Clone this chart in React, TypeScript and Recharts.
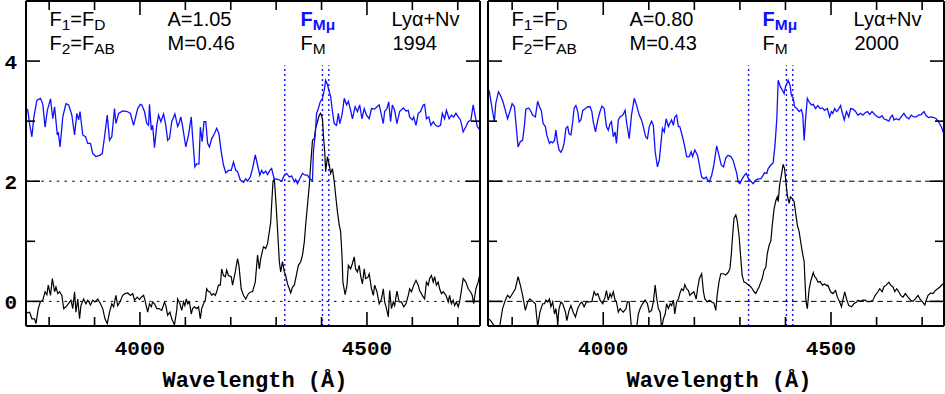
import { LineChart, Line, XAxis, YAxis, ReferenceLine } from "recharts";

// wavelength (Å) / flux pairs
const blue1994: [number, number][] = [
  [3749, 3.22], [3753, 3.18], [3757, 2.95], [3762, 2.74], [3766, 3.05], [3773, 3.35], [3781, 3.38], [3786, 3.28], [3791, 2.9], [3796, 3.18],
  [3803, 3.37], [3808, 3.04], [3812, 3.24], [3818, 2.77], [3820, 2.82], [3824, 2.57], [3830, 3.07], [3837, 3.29], [3843, 3.27], [3850, 3.1],
  [3856, 2.77], [3861, 3.13], [3865, 3.02], [3868, 3.16], [3874, 2.77], [3880, 2.74], [3885, 2.63], [3891, 2.63], [3896, 2.46], [3903, 2.41],
  [3911, 2.43], [3917, 2.46], [3922, 2.74], [3928, 3.1], [3933, 2.68], [3938, 2.74], [3944, 3.21], [3947, 2.96], [3953, 3.13], [3962, 3.17],
  [3972, 3.16], [3979, 3.13], [3986, 2.93], [3995, 3.21], [4001, 3.28], [4004, 3.27], [4010, 3.16], [4015, 2.96], [4019, 2.93], [4021, 3.28],
  [4025, 2.85], [4028, 2.93], [4032, 2.56], [4037, 2.93], [4041, 3.1], [4046, 2.99], [4052, 3.12], [4057, 2.93], [4061, 2.68], [4065, 2.71],
  [4070, 2.99], [4077, 3.12], [4083, 2.91], [4086, 2.96], [4090, 3.07], [4094, 2.91], [4101, 2.57], [4107, 2.77], [4113, 3.07], [4116, 2.74],
  [4121, 2.24], [4125, 2.29], [4130, 2.29], [4133, 2.9], [4137, 2.66], [4141, 2.99], [4145, 2.99], [4149, 2.63], [4153, 2.57], [4158, 2.71],
  [4164, 2.79], [4169, 2.88], [4174, 2.79], [4179, 2.49], [4184, 2.27], [4189, 2.14], [4195, 2.18], [4201, 2.18], [4206, 2.32], [4211, 2.18],
  [4215, 2.16], [4221, 2.02], [4228, 1.98], [4233, 2.04], [4237, 2.0], [4243, 2.07], [4248, 2.21], [4254, 2.44], [4259, 2.27], [4264, 2.1],
  [4268, 2.18], [4272, 2.13], [4277, 2.17], [4281, 2.11], [4286, 2.18], [4290, 2.21], [4296, 2.03], [4301, 2.04], [4307, 2.02], [4312, 2.0],
  [4318, 2.1], [4323, 2.13], [4329, 2.07], [4334, 2.09], [4340, 1.99], [4343, 2.03], [4347, 1.96], [4352, 2.04], [4358, 2.13], [4364, 2.1],
  [4369, 2.1], [4374, 2.04], [4380, 2.01], [4382, 2.49], [4386, 2.77], [4389, 3.13], [4393, 3.21], [4397, 3.32], [4402, 3.38], [4406, 3.52],
  [4409, 3.68], [4413, 3.61], [4417, 3.49], [4420, 3.41], [4424, 3.16], [4428, 2.96], [4433, 2.93], [4437, 3.13], [4440, 2.96], [4445, 3.1],
  [4450, 3.38], [4455, 3.27], [4459, 3.33], [4464, 3.18], [4468, 3.04], [4474, 3.24], [4479, 3.16], [4484, 3.27], [4489, 3.04], [4494, 3.21],
  [4499, 3.1], [4505, 3.04], [4510, 3.21], [4517, 3.2], [4522, 3.24], [4527, 3.27], [4532, 3.1], [4536, 2.96], [4539, 3.16], [4544, 3.21],
  [4548, 3.32], [4552, 2.99], [4556, 3.27], [4561, 3.18], [4566, 2.96], [4572, 3.16], [4580, 3.22], [4586, 3.17], [4591, 3.18], [4594, 3.07],
  [4600, 3.02], [4603, 3.07], [4608, 2.93], [4613, 3.13], [4618, 3.16], [4624, 3.27], [4627, 3.28], [4631, 3.04], [4636, 3.07], [4641, 2.93],
  [4646, 2.99], [4651, 2.93], [4657, 2.91], [4662, 2.93], [4666, 3.13], [4671, 3.04], [4675, 3.18], [4681, 3.04], [4686, 3.1], [4691, 3.07],
  [4696, 3.13], [4701, 3.07], [4706, 3.02], [4712, 2.82], [4718, 2.91], [4723, 2.99], [4729, 3.02], [4734, 3.27], [4738, 3.1], [4743, 2.91],
  [4749, 2.85],
];

const black1994: [number, number][] = [
  [3749, -0.19], [3751, -0.19], [3757, -0.18], [3762, -0.29], [3768, -0.29], [3771, -0.37], [3776, -0.12], [3781, 0.0], [3786, 0.02], [3791, 0.16],
  [3795, 0.11], [3798, 0.27], [3803, 0.1], [3807, 0.38], [3812, 0.16], [3815, 0.24], [3819, 0.13], [3823, 0.16], [3828, 0.1], [3832, -0.12],
  [3837, -0.09], [3842, -0.04], [3848, 0.02], [3852, -0.12], [3856, 0.16], [3859, -0.18], [3863, 0.04], [3867, -0.29], [3870, -0.07], [3876, 0.04],
  [3881, -0.04], [3885, 0.02], [3891, -0.06], [3896, 0.02], [3901, -0.01], [3907, 0.04], [3913, -0.04], [3918, -0.12], [3923, -0.29], [3928, -0.37],
  [3933, -0.18], [3938, -0.04], [3942, -0.09], [3947, 0.1], [3951, -0.07], [3956, -0.01], [3962, 0.1], [3967, 0.13], [3973, 0.14], [3979, 0.1],
  [3984, 0.13], [3988, 0.02], [3994, 0.07], [3999, 0.03], [4003, 0.07], [4008, 0.1], [4011, 0.02], [4017, -0.18], [4021, -0.04], [4025, -0.09],
  [4028, -0.01], [4032, -0.04], [4037, -0.12], [4042, -0.12], [4048, -0.15], [4054, -0.01], [4057, -0.07], [4061, -0.23], [4066, -0.18], [4070, -0.29],
  [4076, -0.39], [4081, -0.15], [4083, 0.04], [4088, -0.04], [4092, -0.15], [4096, -0.01], [4099, -0.07], [4102, 0.04], [4105, -0.04], [4109, -0.01],
  [4113, -0.21], [4116, -0.12], [4120, -0.09], [4125, -0.12], [4129, -0.09], [4133, -0.29], [4136, -0.12], [4140, -0.04], [4144, 0.02], [4147, 0.21],
  [4151, 0.16], [4154, 0.16], [4158, 0.1], [4162, 0.13], [4166, 0.1], [4169, 0.16], [4173, 0.27], [4177, 0.27], [4180, 0.54], [4184, 0.43],
  [4188, 0.41], [4191, 0.52], [4195, 0.43], [4201, 0.41], [4204, 0.27], [4210, 0.49], [4215, 0.71], [4218, 0.6], [4223, 0.21], [4228, 0.1],
  [4233, 0.04], [4239, 0.13], [4245, 0.16], [4248, 0.16], [4254, 0.32], [4259, 0.77], [4263, 0.54], [4266, 0.71], [4272, 0.91], [4277, 0.88],
  [4281, 0.96], [4285, 1.16], [4288, 1.32], [4290, 1.6], [4293, 1.99], [4296, 2.04], [4299, 1.71], [4303, 1.21], [4307, 0.66], [4310, 0.49],
  [4314, 0.66], [4318, 0.49], [4321, 0.43], [4325, 0.29], [4329, 0.21], [4332, 0.14], [4336, 0.24], [4340, 0.27], [4343, 0.38], [4349, 0.6],
  [4354, 0.66], [4358, 0.77], [4362, 0.99], [4365, 1.27], [4369, 1.6], [4373, 1.93], [4376, 2.27], [4380, 2.68], [4384, 2.71], [4387, 2.88],
  [4391, 2.99], [4395, 3.1], [4398, 3.13], [4402, 3.04], [4404, 2.77], [4407, 2.49], [4409, 2.16], [4413, 2.41], [4417, 2.27], [4420, 2.13],
  [4424, 2.21], [4428, 1.99], [4431, 1.77], [4435, 1.49], [4439, 1.27], [4442, 1.16], [4445, 0.77], [4447, 0.32], [4452, 0.11], [4456, 0.27],
  [4459, 0.6], [4464, 0.54], [4468, 0.63], [4472, 0.74], [4475, 0.54], [4479, 0.49], [4483, 0.6], [4486, 0.43], [4490, 0.29], [4494, 0.54],
  [4497, 0.38], [4502, 0.4], [4505, 0.46], [4510, 0.21], [4514, 0.1], [4517, 0.27], [4522, 0.16], [4527, -0.04], [4532, 0.04], [4536, 0.21],
  [4539, -0.01], [4543, -0.12], [4547, -0.26], [4550, 0.18], [4554, -0.12], [4558, -0.01], [4561, -0.07], [4566, 0.17], [4571, -0.01], [4576, -0.01],
  [4581, -0.09], [4586, -0.04], [4591, 0.1], [4594, 0.21], [4598, 0.16], [4603, 0.27], [4608, 0.35], [4613, 0.27], [4616, 0.18], [4622, 0.1],
  [4627, 0.04], [4631, 0.32], [4635, 0.27], [4638, 0.38], [4642, 0.43], [4646, 0.32], [4649, 0.41], [4653, 0.27], [4657, 0.32], [4660, 0.21],
  [4664, 0.13], [4668, 0.16], [4674, 0.1], [4679, -0.01], [4682, 0.1], [4686, -0.04], [4690, 0.02], [4693, -0.07], [4697, -0.01], [4701, -0.09],
  [4704, -0.01], [4708, 0.18], [4712, 0.38], [4718, 0.32], [4723, 0.21], [4728, 0.16], [4732, 0.1], [4735, -0.04], [4740, 0.21], [4745, 0.32],
  [4749, 0.46],
];

const blue2000: [number, number][] = [
  [3747, 3.45], [3750, 3.49], [3756, 3.21], [3761, 2.99], [3764, 3.29], [3770, 3.49], [3775, 3.42], [3780, 3.32], [3785, 3.18], [3790, 3.04],
  [3795, 3.16], [3800, 3.29], [3805, 3.24], [3808, 2.99], [3813, 2.57], [3818, 2.66], [3823, 2.68], [3827, 2.93], [3830, 3.2], [3836, 3.22],
  [3840, 3.18], [3845, 3.1], [3851, 3.07], [3856, 3.33], [3860, 3.24], [3864, 3.18], [3868, 2.96], [3873, 2.91], [3876, 2.77], [3882, 2.63],
  [3885, 2.66], [3889, 2.64], [3893, 2.68], [3896, 2.85], [3900, 2.63], [3903, 2.52], [3907, 2.48], [3911, 2.54], [3914, 2.63], [3918, 2.88],
  [3922, 2.91], [3925, 2.79], [3929, 2.77], [3933, 2.99], [3936, 3.21], [3940, 3.26], [3944, 3.16], [3947, 2.99], [3951, 3.02], [3955, 3.18],
  [3961, 3.21], [3966, 3.24], [3971, 3.24], [3975, 3.16], [3978, 2.99], [3983, 2.82], [3988, 3.02], [3993, 3.16], [3997, 3.25], [4002, 3.21],
  [4007, 2.91], [4011, 2.85], [4015, 2.96], [4018, 2.99], [4022, 2.74], [4026, 2.82], [4029, 2.63], [4033, 3.02], [4037, 3.07], [4043, 3.1],
  [4048, 3.18], [4051, 2.99], [4057, 2.71], [4062, 3.1], [4068, 3.38], [4073, 3.27], [4079, 3.1], [4084, 3.02], [4088, 2.91], [4093, 2.74],
  [4097, 2.71], [4101, 2.91], [4106, 3.0], [4110, 2.93], [4114, 2.49], [4119, 2.24], [4123, 2.35], [4127, 2.66], [4130, 2.88], [4134, 2.82],
  [4138, 3.04], [4143, 2.91], [4146, 2.96], [4150, 3.02], [4154, 2.93], [4157, 3.07], [4161, 3.1], [4165, 2.91], [4168, 2.91], [4174, 2.74],
  [4179, 2.57], [4183, 2.41], [4189, 2.41], [4193, 2.49], [4196, 2.41], [4201, 2.52], [4207, 2.43], [4211, 2.27], [4216, 2.07], [4221, 2.04],
  [4226, 2.07], [4229, 2.02], [4233, 1.99], [4238, 2.1], [4243, 2.28], [4249, 2.59], [4254, 2.43], [4259, 2.27], [4264, 2.24], [4269, 2.39],
  [4274, 2.43], [4280, 2.41], [4285, 2.35], [4289, 2.24], [4293, 2.13], [4296, 1.99], [4300, 1.96], [4305, 2.04], [4310, 2.1], [4314, 2.13],
  [4319, 2.04], [4324, 2.0], [4329, 1.96], [4335, 2.02], [4340, 2.04], [4346, 2.04], [4351, 2.1], [4354, 2.14], [4359, 2.13], [4362, 2.21],
  [4368, 2.27], [4373, 2.31], [4377, 2.6], [4381, 3.04], [4384, 3.68], [4389, 3.57], [4393, 3.52], [4397, 3.46], [4400, 3.57], [4406, 3.68],
  [4410, 3.6], [4413, 3.43], [4417, 3.38], [4420, 3.24], [4425, 3.21], [4430, 3.16], [4435, 3.19], [4438, 3.1], [4441, 2.68], [4444, 3.02],
  [4448, 3.38], [4452, 3.32], [4457, 3.27], [4461, 3.28], [4466, 3.21], [4471, 3.26], [4476, 3.21], [4481, 3.22], [4486, 3.18], [4492, 3.21],
  [4497, 3.07], [4501, 3.16], [4504, 3.13], [4508, 3.21], [4512, 3.16], [4515, 3.18], [4521, 3.26], [4524, 3.16], [4529, 3.02], [4534, 3.16],
  [4539, 3.07], [4543, 3.21], [4548, 3.2], [4553, 3.17], [4559, 3.1], [4565, 3.13], [4570, 3.1], [4575, 3.14], [4580, 3.16], [4585, 3.11],
  [4590, 3.16], [4596, 3.11], [4602, 3.07], [4607, 3.06], [4612, 3.09], [4616, 3.04], [4622, 3.02], [4627, 3.0], [4631, 3.07], [4635, 3.1],
  [4638, 3.02], [4643, 3.04], [4649, 3.02], [4654, 3.07], [4660, 3.13], [4665, 3.07], [4671, 3.04], [4676, 3.1], [4682, 3.07], [4687, 3.07],
  [4692, 3.1], [4698, 3.11], [4704, 3.16], [4709, 3.09], [4714, 3.06], [4720, 3.07], [4726, 3.06], [4731, 3.04], [4736, 2.99], [4742, 2.91],
  [4748, 2.78],
];

const black2000: [number, number][] = [
  [3747, -0.26], [3748, -0.29], [3753, -0.32], [3759, -0.39], [3764, -0.45], [3772, -0.45], [3779, -0.12], [3785, 0.02], [3790, 0.1], [3795, 0.06],
  [3801, 0.13], [3807, 0.21], [3813, 0.41], [3818, 0.27], [3823, 0.1], [3829, -0.15], [3834, -0.01], [3839, 0.04], [3845, 0.0], [3851, -0.04],
  [3856, -0.42], [3861, -0.18], [3867, -0.04], [3871, -0.04], [3874, 0.02], [3878, -0.01], [3882, 0.04], [3885, -0.09], [3889, -0.01], [3893, -0.21],
  [3896, -0.12], [3900, -0.34], [3903, -0.12], [3907, -0.01], [3911, -0.04], [3917, -0.18], [3920, -0.32], [3925, -0.15], [3929, -0.07], [3934, -0.18],
  [3939, -0.26], [3944, -0.12], [3949, -0.04], [3953, -0.01], [3958, -0.09], [3963, -0.01], [3969, -0.01], [3975, 0.0], [3980, 0.16], [3984, 0.1],
  [3988, 0.13], [3993, 0.02], [3999, -0.04], [4004, 0.07], [4007, 0.18], [4011, 0.02], [4015, 0.13], [4018, 0.07], [4022, 0.16], [4026, 0.02],
  [4029, -0.01], [4033, -0.18], [4037, -0.12], [4040, -0.15], [4044, -0.18], [4050, -0.12], [4053, -0.01], [4057, -0.01], [4062, -0.45], [4066, -0.48],
  [4073, -0.45], [4077, -0.21], [4081, -0.12], [4086, -0.04], [4092, 0.02], [4097, -0.04], [4101, -0.18], [4106, -0.15], [4110, -0.01], [4114, 0.27],
  [4117, 0.07], [4121, -0.12], [4125, -0.18], [4128, -0.45], [4132, -0.29], [4136, -0.21], [4139, -0.04], [4143, -0.12], [4147, -0.04], [4150, -0.07],
  [4154, 0.02], [4157, -0.21], [4161, -0.01], [4165, 0.04], [4168, 0.13], [4172, 0.21], [4176, 0.18], [4179, 0.28], [4183, 0.21], [4187, 0.18],
  [4190, 0.1], [4194, 0.13], [4199, 0.16], [4204, 0.04], [4207, 0.21], [4211, 0.38], [4216, 0.46], [4220, 0.16], [4223, 0.04], [4228, -0.01],
  [4233, 0.02], [4238, -0.01], [4243, -0.03], [4247, -0.15], [4250, 0.1], [4254, 0.32], [4258, 0.46], [4264, 0.46], [4269, 0.44], [4274, 0.48],
  [4278, 0.54], [4281, 0.77], [4284, 1.1], [4287, 1.38], [4291, 1.44], [4294, 1.35], [4298, 1.1], [4302, 0.71], [4305, 0.43], [4309, 0.32],
  [4313, 0.31], [4316, 0.29], [4320, 0.27], [4324, 0.24], [4327, 0.21], [4331, 0.16], [4335, 0.13], [4338, 0.18], [4342, 0.24], [4346, 0.32],
  [4349, 0.38], [4353, 0.52], [4357, 0.57], [4360, 0.79], [4364, 0.93], [4368, 1.01], [4371, 1.27], [4375, 1.54], [4379, 1.68], [4382, 1.74],
  [4384, 1.66], [4387, 1.93], [4391, 2.1], [4395, 2.28], [4398, 2.21], [4401, 1.99], [4404, 1.77], [4408, 1.63], [4411, 1.74], [4415, 1.71],
  [4419, 1.66], [4422, 1.49], [4426, 1.27], [4430, 1.16], [4433, 1.01], [4437, 0.82], [4441, 0.66], [4443, 0.32], [4445, 0.0], [4448, -0.12],
  [4452, 0.21], [4455, 0.32], [4459, 0.43], [4461, 0.48], [4464, 0.41], [4468, 0.38], [4471, 0.32], [4476, 0.33], [4481, 0.27], [4486, 0.29],
  [4491, 0.26], [4493, 0.27], [4499, 0.16], [4504, 0.13], [4510, 0.18], [4514, 0.07], [4519, -0.01], [4523, -0.09], [4526, 0.02], [4530, 0.16],
  [4534, 0.04], [4539, -0.07], [4545, -0.09], [4550, -0.04], [4556, -0.01], [4559, 0.02], [4565, 0.0], [4570, 0.02], [4575, 0.02], [4581, -0.01],
  [4587, 0.0], [4592, 0.02], [4597, 0.1], [4603, 0.16], [4607, 0.21], [4612, 0.16], [4616, 0.24], [4621, 0.27], [4627, 0.32], [4631, 0.27],
  [4636, 0.24], [4640, 0.16], [4644, 0.21], [4647, 0.18], [4653, 0.1], [4658, 0.07], [4663, 0.13], [4669, 0.07], [4675, 0.02], [4680, 0.0],
  [4685, 0.04], [4691, 0.1], [4695, 0.04], [4700, 0.0], [4706, -0.06], [4709, 0.02], [4713, 0.1], [4719, 0.14], [4724, 0.13], [4729, 0.18],
  [4734, 0.21], [4739, 0.24], [4744, 0.28], [4748, 0.3],
];

const wavelengthTicks = [3800, 3900, 4000, 4100, 4200, 4300, 4400, 4500, 4600, 4700];
const fluxTicks = [0, 1, 2, 3, 4];
const guideLevels = [0, 2];
const lineMarkers = [4319, 4402, 4416];
const markerTop = 3.93;
const fluxDomain: [number, number] = [-0.41, 5.0];

const panelYears = ["1994", "2000"];
const amplitudes = ["1.05", "0.80"];
const mValues = ["0.46", "0.43"];

const MONO = '"Liberation Mono", "DejaVu Sans Mono", monospace';
const SANS = '"Liberation Sans", Arial, sans-serif';
const BLUE = "#1010ff";

const MAJOR = 14;
const MINOR = 9;

type TickProps = { x: number; y: number; payload: { value: number } };

function BottomTick({ x, y, payload }: TickProps) {
  const major = payload.value % 500 === 0;
  return (
    <g>
      <line x1={x} x2={x} y1={y} y2={y - (major ? MAJOR : MINOR)} stroke="#000" strokeWidth={1.6} />
      {major && (
        <text x={x} y={y + 29} textAnchor="middle" fontFamily={MONO} fontWeight="bold" fontSize={21} fill="#000">
          {payload.value}
        </text>
      )}
    </g>
  );
}

function TopTick({ x, y, payload }: TickProps) {
  const major = payload.value % 500 === 0;
  return <line x1={x} x2={x} y1={y} y2={y + (major ? MAJOR : MINOR)} stroke="#000" strokeWidth={1.6} />;
}

function LeftTick({ x, y, payload, labels }: TickProps & { labels: boolean }) {
  const major = payload.value % 2 === 0;
  return (
    <g>
      <line x1={x} x2={x + (major ? MAJOR : MINOR)} y1={y} y2={y} stroke="#000" strokeWidth={1.6} />
      {labels && major && (
        <text x={x - 9} y={y} dy="0.36em" textAnchor="end" fontFamily={MONO} fontWeight="bold" fontSize={21} fill="#000">
          {payload.value}
        </text>
      )}
    </g>
  );
}

function RightTick({ x, y, payload }: TickProps) {
  const major = payload.value % 2 === 0;
  return <line x1={x} x2={x - (major ? MAJOR : MINOR)} y1={y} y2={y} stroke="#000" strokeWidth={1.6} />;
}

interface PanelProps {
  blue: [number, number][];
  black: [number, number][];
  domain: [number, number];
  width: number;
  marginLeft: number;
  marginRight: number;
  labels: boolean;
  dash: string;
}

// axes are 1px thick so recharts still renders them; margins absorb the rest
function Panel({ blue, black, domain, width, marginLeft, marginRight, labels, dash }: PanelProps) {
  const blueData = blue.map(([w, f]) => ({ w, f }));
  const blackData = black.map(([w, f]) => ({ w, f }));
  const frame = { stroke: "#000", strokeWidth: 2 };
  return (
    <LineChart width={width} height={394} margin={{ top: 0, right: marginRight, bottom: 67, left: marginLeft }}>
      <XAxis xAxisId="b" dataKey="w" type="number" domain={domain} allowDataOverflow ticks={wavelengthTicks} interval={0}
        height={1} tickSize={0} tickMargin={0} axisLine={frame} tickLine={false}
        tick={(p: TickProps) => <BottomTick {...p} />} />
      <XAxis xAxisId="t" orientation="top" dataKey="w" type="number" domain={domain} allowDataOverflow ticks={wavelengthTicks} interval={0}
        height={1} tickSize={0} tickMargin={0} axisLine={frame} tickLine={false}
        tick={(p: TickProps) => <TopTick {...p} />} />
      <YAxis yAxisId="l" type="number" domain={fluxDomain} allowDataOverflow ticks={fluxTicks} interval={0}
        width={1} tickSize={0} tickMargin={0} axisLine={frame} tickLine={false}
        tick={(p: TickProps) => <LeftTick {...p} labels={labels} />} />
      <YAxis yAxisId="r" orientation="right" type="number" domain={fluxDomain} allowDataOverflow ticks={fluxTicks} interval={0}
        width={1} tickSize={0} tickMargin={0} axisLine={frame} tickLine={false}
        tick={(p: TickProps) => <RightTick {...p} />} />
      {guideLevels.map((v) => (
        <ReferenceLine key={`h${v}`} xAxisId="b" yAxisId="l" y={v} stroke="#000" strokeWidth={1} strokeDasharray={dash} />
      ))}
      {lineMarkers.map((m) => (
        <ReferenceLine key={`v${m}`} xAxisId="b" yAxisId="l"
          segment={[{ x: m, y: fluxDomain[0] }, { x: m, y: markerTop }]}
          stroke={BLUE} strokeWidth={1.4} strokeDasharray="2 3" />
      ))}
      <Line xAxisId="b" yAxisId="l" data={blackData} dataKey="f" type="linear" stroke="#000" strokeWidth={1.2}
        dot={false} isAnimationActive={false} />
      <Line xAxisId="b" yAxisId="l" data={blueData} dataKey="f" type="linear" stroke={BLUE} strokeWidth={1.3}
        dot={false} isAnimationActive={false} />
    </LineChart>
  );
}

function Annotations({ left, idx }: { left: number; idx: number }) {
  const base = { fontFamily: SANS, fontSize: 20, fill: "#000" };
  const sub = { fontSize: 15.5 };
  const c1 = left + 23.5;
  const c2 = left + 141.5;
  const c3 = left + 274.5;
  const c4 = left + 365.5;
  return (
    <g>
      <text x={c1} y={26} {...base}>
        F<tspan {...sub} dy={4}>1</tspan><tspan dy={-4}>=F</tspan><tspan {...sub} dy={4}>D</tspan>
      </text>
      <text x={c1} y={50} {...base}>
        F<tspan {...sub} dy={4}>2</tspan><tspan dy={-4}>=F</tspan><tspan {...sub} dy={4}>AB</tspan>
      </text>
      <text x={c2} y={26} {...base}>A=<tspan>{amplitudes[idx]}</tspan></text>
      <text x={c2} y={50} {...base}>M=<tspan>{mValues[idx]}</tspan></text>
      <text x={c3} y={26} {...base} fill={BLUE} fontWeight="bold">
        F<tspan {...sub} dy={4}>Mμ</tspan>
      </text>
      <text x={c3} y={50} {...base}>
        F<tspan {...sub} dy={4}>M</tspan>
      </text>
      <text x={c4} y={26} {...base}>Lyα+Nv</text>
      <text x={c4 + 1} y={50} {...base}>{panelYears[idx]}</text>
    </g>
  );
}

export default function App() {
  return (
    <div style={{ position: "absolute", left: 0, top: 0, width: 945, height: 394, background: "#fff" }}>
      <div style={{ position: "absolute", left: 0, top: 0 }}>
        <Panel blue={blue1994} black={black1994} domain={[3749, 4749]} width={484} marginLeft={25} marginRight={3}
          labels dash="2.5 5.2" />
      </div>
      <div style={{ position: "absolute", left: 484, top: 0 }}>
        <Panel blue={blue2000} black={black2000} domain={[3747, 4748]} width={461} marginLeft={3} marginRight={0}
          labels={false} dash="5.5 4" />
      </div>
      <svg width={945} height={394} style={{ position: "absolute", left: 0, top: 0, pointerEvents: "none" }}>
        <Annotations left={26} idx={0} />
        <Annotations left={488} idx={1} />
        <text x={255} y={387} textAnchor="middle" fontFamily={MONO} fontWeight="bold" fontSize={22} fill="#000">
          Wavelength (Å)
        </text>
        <text x={719} y={387} textAnchor="middle" fontFamily={MONO} fontWeight="bold" fontSize={22} fill="#000">
          Wavelength (Å)
        </text>
      </svg>
    </div>
  );
}
